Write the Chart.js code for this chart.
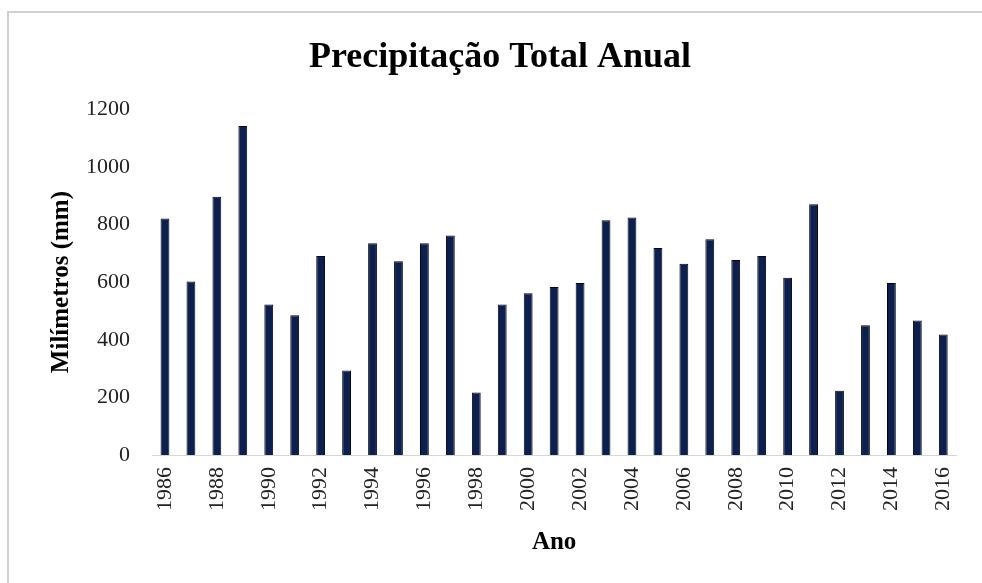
<!DOCTYPE html>
<html>
<head>
<meta charset="utf-8">
<script src="https://cdn.jsdelivr.net/npm/chart.js@4/dist/chart.umd.min.js"></script>
<style>
  html, body { margin: 0; padding: 0; background: #fff; overflow: hidden; }
  #wrap { position: absolute; left: 0; top: 0; width: 982px; height: 583px; overflow: hidden; }
  #frame { position: absolute; left: 7px; top: 11px; width: 1000px; height: 600px;
           border-left: 2px solid #d0d0d0; border-top: 2px solid #d0d0d0; }
  canvas { position: absolute; left: 0; top: 0; }
</style>
</head>
<body>
<div id="wrap">
  <div id="frame"></div>
  <canvas id="c" width="982" height="583"></canvas>
</div>
<script>
const years = ["1986","1987","1988","1989","1990","1991","1992","1993","1994","1995",
               "1996","1997","1998","1999","2000","2001","2002","2003","2004","2005",
               "2006","2007","2008","2009","2010","2011","2012","2013","2014","2015","2016"];
const precipitation = [821, 602, 896, 1142, 522, 485, 691, 293, 735, 672,
                       735, 762, 217, 522, 561, 583, 597, 815, 824, 718,
                       664, 749, 677, 691, 615, 870, 223, 450, 597, 467, 418];
const yTicks = [0, 200, 400, 600, 800, 1000, 1200];
const chartTitle = "Precipitação Total Anual";
const xTitle = "Ano";
const yTitle = "Milímetros (mm)";

const serif = "'Liberation Serif', 'Times New Roman', serif";

new Chart(document.getElementById('c'), {
  type: 'bar',
  data: {
    labels: years,
    datasets: [{
      data: precipitation,
      backgroundColor: '#0c1f4e',
      borderColor: '#04070f',
      borderWidth: 1,
      barPercentage: 0.34,
      categoryPercentage: 1.0
    }]
  },
  options: {
    responsive: false,
    animation: false,
    layout: { padding: { left: 37, right: 19, top: 0, bottom: 0 } },
    plugins: {
      legend: { display: false },
      tooltip: { enabled: false },
      title: {
        display: true,
        text: chartTitle,
        color: '#000',
        font: { family: serif, size: 36, weight: 'bold' },
        padding: { top: 36, bottom: 30 }
      }
    },
    scales: {
      x: {
        grid: { display: false, drawTicks: false },
        border: { display: true, color: '#d6d6d6', width: 1 },
        ticks: {
          autoSkip: false,
          maxRotation: 90,
          minRotation: 90,
          padding: 12,
          color: '#222',
          font: { family: serif, size: 22 },
          callback: function(v, i) { return i % 2 === 0 ? years[i] : ''; }
        },
        title: {
          display: true,
          text: xTitle,
          color: '#000',
          font: { family: serif, size: 25, weight: 'bold' },
          padding: { top: 0, bottom: 25 }
        },
        afterFit: function(s) { s.height = 128; }
      },
      y: {
        min: 0,
        max: 1200,
        afterBuildTicks: function(s) { s.ticks = yTicks.map(v => ({ value: v })); },
        grid: { display: false, drawTicks: false },
        border: { display: false },
        ticks: {
          padding: 22,
          color: '#222',
          font: { family: serif, size: 22 },
          callback: function(v) { return String(v); }
        },
        title: {
          display: true,
          text: yTitle,
          color: '#000',
          font: { family: serif, size: 25, weight: 'bold' },
          padding: { top: 10, bottom: 0 }
        },
        afterFit: function(s) { s.width = 115; }
      }
    }
  }
});
</script>
</body>
</html>
